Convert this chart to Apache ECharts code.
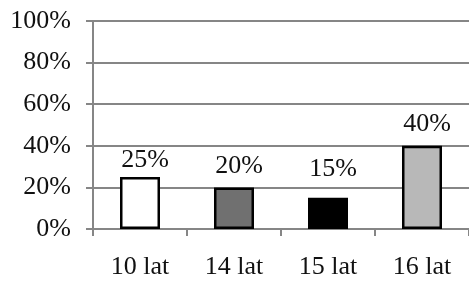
<!DOCTYPE html>
<html>
<head>
<meta charset="utf-8">
<script src="https://cdn.jsdelivr.net/npm/echarts@6/dist/echarts.min.js"></script>
<style>
  html, body { margin: 0; padding: 0; background: #fff; }
  #chart { width: 469px; height: 283px; }
</style>
</head>
<body>
<div id="chart"></div>
<script>
// data
var categories = ['10 lat', '14 lat', '15 lat', '16 lat'];
var values = [25, 20, 15, 40];
var yMin = 0, yMax = 100, yStep = 20;

// look of each bar and how far its label sits above it
var barColors = ['#ffffff', '#707070', '#000000', '#b8b8b8'];
var labelGap = [4, 8, 16, 9];

var gridColor = '#868686';
var font = 'Liberation Serif, Times New Roman, serif';

var myChart = echarts.init(document.getElementById('chart'));

var option = {
  animation: false,
  textStyle: { fontFamily: font, color: '#111' },
  grid: { left: 93, top: 21, right: -2, bottom: 54 },
  xAxis: {
    type: 'category',
    data: categories,
    axisLine: { lineStyle: { color: gridColor, width: 2 } },
    axisTick: { show: true, length: 7, lineStyle: { color: gridColor, width: 2 } },
    axisLabel: { margin: 25, fontSize: 26, color: '#111', fontFamily: font }
  },
  yAxis: {
    type: 'value',
    min: yMin,
    max: yMax,
    interval: yStep,
    axisLine: { show: true, lineStyle: { color: gridColor, width: 2 } },
    axisTick: { show: true, length: 7, lineStyle: { color: gridColor, width: 2 } },
    splitLine: { lineStyle: { color: gridColor, width: 2 } },
    axisLabel: { margin: 22, fontSize: 26, color: '#111', fontFamily: font, formatter: '{value}%' }
  },
  series: [{
    type: 'bar',
    barWidth: 40,
    data: values.map(function (v, i) {
      return {
        value: v,
        itemStyle: { color: barColors[i] },
        label: { distance: labelGap[i] }
      };
    }),
    itemStyle: { borderColor: '#000', borderWidth: 2.5 },
    label: {
      show: true,
      position: 'top',
      offset: [5, 0],
      fontSize: 26,
      color: '#111',
      fontFamily: font,
      formatter: '{c}%'
    }
  }]
};

myChart.setOption(option);
</script>
</body>
</html>
